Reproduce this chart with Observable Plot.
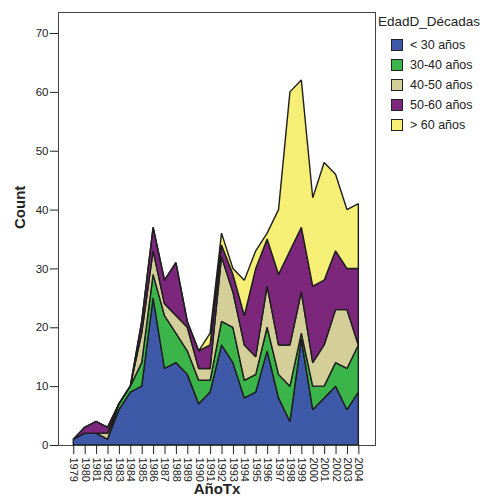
<!DOCTYPE html>
<html>
<head>
<meta charset="utf-8">
<script src="https://cdn.jsdelivr.net/npm/d3@7"></script>
<script src="https://cdn.jsdelivr.net/npm/@observablehq/plot@0.6"></script>
<style>
  html, body { margin: 0; padding: 0; background: #fff; }
  #wrap { position: relative; width: 491px; height: 500px; font-family: "Liberation Sans", Arial, sans-serif; }
  #legend { position: absolute; left: 378px; top: 14px; color: #222; }
  #legend .title { font-size: 13.5px; margin-bottom: 6px; }
  #legend .item { display: flex; align-items: center; height: 20px; font-size: 12.5px; padding-left: 13px; }
  #legend .sw { width: 10px; height: 10px; border: 1px solid #222; margin-right: 7px; }
</style>
</head>
<body>
<div id="wrap">
  <div id="chart"></div>
  <div id="legend"></div>
</div>
<script>
const years = [1979,1980,1981,1982,1983,1984,1985,1986,1987,1988,1989,1990,1991,1992,1993,1994,1995,1996,1997,1998,1999,2000,2001,2002,2003,2004];
const groups = ["< 30 años", "30-40 años", "40-50 años", "50-60 años", "> 60 años"];
const colors = ["#3d59a7", "#3bb54a", "#d4cf99", "#7c277b", "#f5ef75"];
const lt30   = [1,2,2,1,6,9,10,25,13,14,12,7,9,17,14,8,9,16,8,4,18,6,8,10,6,9];
const a30_40 = [0,0,0,0,1,1,4,4,9,5,4,4,2,4,6,3,3,4,4,6,1,4,2,4,7,8];
const a40_50 = [0,0,0,1,0,0,5,4,2,3,4,2,2,11,6,6,3,7,5,7,7,4,7,9,10,0];
const a50_60 = [0,1,2,1,0,0,2,4,4,9,1,3,4,2,3,5,15,8,12,16,11,13,11,10,7,13];
const gt60   = [0,0,0,0,0,0,0,0,0,0,0,0,2,2,1,6,3,1,11,27,25,15,20,13,10,11];
const yTicks = [0,10,20,30,40,50,60,70];

const series = [lt30, a30_40, a40_50, a50_60, gt60];
const data = [];
groups.forEach((g, gi) => years.forEach((yr, i) => data.push({year: yr, group: g, count: series[gi][i]})));

const chart = Plot.plot({
  width: 491,
  height: 500,
  marginLeft: 58,
  marginRight: 116,
  marginTop: 12,
  marginBottom: 55,
  style: {fontFamily: "'Liberation Sans', Arial, sans-serif", fontSize: "11px", color: "#222", background: "#fff"},
  x: {domain: [1977.66, 2005.46]},
  y: {domain: [0, 73.57]},
  color: {domain: groups, range: colors},
  marks: [
    Plot.areaY(data, {x: "year", y: "count", z: "group", fill: "group", order: groups, stroke: "#1e1e1e", strokeWidth: 1.4, strokeLinejoin: "miter"}),
    Plot.frame({stroke: "#444", strokeWidth: 1}),
    Plot.axisY({ticks: yTicks, tickSize: 8, tickPadding: 2, label: null, fontSize: 11.5, tickFormat: d => String(d)}),
    Plot.axisX({ticks: years, tickSize: 9, tickPadding: 3, tickRotate: 90, label: null, tickFormat: d => String(d)}),
    Plot.text(["Count"], {frameAnchor: "left", dx: -38, rotate: -90, fontWeight: "bold", fontSize: 15, text: d => d}),
    Plot.text(["AñoTx"], {frameAnchor: "bottom", dy: 48, fontWeight: "bold", fontSize: 15, text: d => d})
  ]
});
document.getElementById("chart").append(chart);

const leg = document.getElementById("legend");
const t = document.createElement("div");
t.className = "title";
t.textContent = "EdadD_Décadas";
leg.append(t);
groups.forEach((g, i) => {
  const it = document.createElement("div");
  it.className = "item";
  const sw = document.createElement("span");
  sw.className = "sw";
  sw.style.background = colors[i];
  const lab = document.createElement("span");
  lab.textContent = g;
  it.append(sw, lab);
  leg.append(it);
});
</script>
</body>
</html>
